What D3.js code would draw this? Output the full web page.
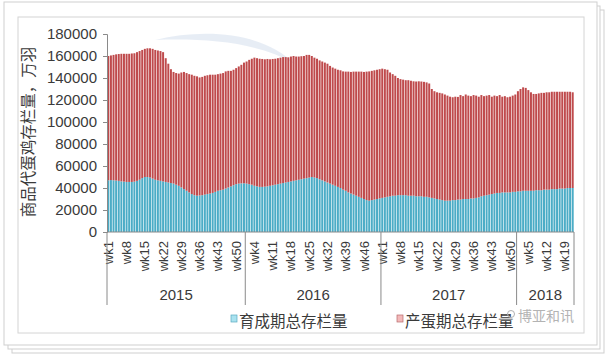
<!DOCTYPE html>
<html><head><meta charset="utf-8">
<script src="https://cdn.jsdelivr.net/npm/d3@7/dist/d3.min.js"></script>
<style>body{margin:0;background:#fff;}svg{display:block;}</style>
</head><body>
<svg id="c" width="615" height="359"></svg>
<script>
// ---- data ----
const years = ["2015", "2016", "2017", "2018"];
const weeksPerYear = [53, 52, 52, 22];
// 育成期总存栏量 (万羽)
const rearing2015 = [47000,47200,47000,46800,46500,46000,45800,45500,45500,45500,45800,46500,47500,49000,50000,50000,49500,48500,47500,47000,46500,46000,45500,45000,44500,44000,43000,42000,40500,39000,37500,36000,34500,33500,33000,33200,33500,34000,34500,35000,35500,36500,37500,38000,38500,39500,40500,41500,42500,43500,44000,44200,44300];
const rearing2016 = [44000,43500,43000,42000,41500,41000,41000,41200,41500,42000,42500,43000,43500,44000,44500,45000,45500,46000,46500,47000,47500,48000,48500,49000,49500,50000,49500,49000,48000,47000,46000,45000,44000,43000,42000,41000,40000,38500,37500,36000,35000,34000,33000,32000,31000,30000,29000,28500,29000,29500,30000,30500];
const rearing2017 = [31000,31500,32000,32500,33000,33000,33500,33500,33500,33500,33000,33000,33000,32500,32500,32500,32000,32000,31500,31000,30500,30000,29500,29000,28500,28500,28500,29000,29000,29500,29500,30000,30000,30000,30500,30500,31000,31500,32500,33000,33500,34000,34500,35000,35500,35500,36000,36000,36000,36000,36500,36500];
const rearing2018 = [37000,37000,37500,37500,37500,37500,37500,38000,38000,38000,38500,38500,38500,39000,39000,39000,39500,39500,39500,40000,40000,40000];
// 产蛋期总存栏量 (万羽)
const laying2015 = [113000,113300,114000,114700,115300,116000,116200,116500,116500,116800,116700,117000,117000,116500,116500,117000,117500,118000,118000,118000,118000,117500,112500,108000,103500,101500,101500,102000,104500,106500,107000,107500,108500,108500,108500,107300,107500,108000,108000,108000,107500,106500,106000,106000,106000,106500,106000,105000,105000,105500,106500,107800,109700];
const laying2016 = [111000,113000,114500,116500,116500,116500,116300,115800,115800,115000,114800,114500,114500,114500,114500,114000,113300,113500,113500,112500,112000,111800,111500,112000,111500,110000,109000,108500,108000,108000,108000,108000,107000,106500,106500,106500,107000,107500,108300,109800,110500,111800,112800,113800,114800,115500,116800,117500,117500,117500,117500,117500];
const laying2017 = [117500,116500,115500,112500,110500,109000,106500,105500,105000,104500,105000,104500,104000,104300,104500,104300,104500,104000,103500,99000,97500,97000,97000,97000,96500,95500,94500,93500,94000,93300,95000,93500,95000,94000,93000,94000,93000,91500,92000,90500,90500,90500,88500,89000,88000,89000,87000,87500,86500,87000,87500,88500];
const laying2018 = [91000,93000,94000,93500,91500,89500,88000,87500,88000,88500,88000,88500,88500,88500,88500,88500,88000,88000,88000,87500,87500,87000];
const yTicks = [0,20000,40000,60000,80000,100000,120000,140000,160000,180000];
const seriesNames = ["育成期总存栏量", "产蛋期总存栏量"];
const yTitle = "商品代蛋鸡存栏量，万羽";
const watermark = "博亚和讯";

// ---- build table ----
const rearing = [rearing2015, rearing2016, rearing2017, rearing2018];
const laying = [laying2015, laying2016, laying2017, laying2018];
const rows = [];
years.forEach((yr, yi) => {
  for (let w = 0; w < weeksPerYear[yi]; w++) {
    rows.push({year: yr, week: w + 1, label: "wk" + (w + 1), rearing: rearing[yi][w], laying: laying[yi][w]});
  }
});
rows.forEach((d, i) => d.i = i);

const svg = d3.select("#c");
const font = "'Liberation Sans', Arial, sans-serif";
const cjk = "'Noto Sans CJK SC', sans-serif";
const txt = "#3a3a3a";

// paper frame
svg.append("rect").attr("x", 12).attr("y", 10).attr("width", 592).attr("height", 343).attr("fill", "#fff").attr("stroke", "#cfcfcf");
svg.append("rect").attr("x", 8).attr("y", 6).attr("width", 592).attr("height", 343).attr("fill", "#fff").attr("stroke", "#cfcfcf");
svg.append("rect").attr("x", 4).attr("y", 2).attr("width", 593).attr("height", 343).attr("fill", "#fff").attr("stroke", "#cfcfcf");
svg.append("rect").attr("x", 18).attr("y", 17).attr("width", 566).attr("height", 316).attr("fill", "#fff").attr("stroke", "#d4d4d4");

const x0 = 107, x1 = 574, yTop = 34, yBot = 232;
const x = d3.scaleBand().domain(rows.map(d => d.i)).range([x0, x1]).paddingInner(0.24).paddingOuter(0.12);
const y = d3.scaleLinear().domain([0, 180000]).range([yBot, yTop]);

// faint swoosh watermark
svg.append("path")
  .attr("d", "M155,40 C205,28 262,32 295,64 C258,42 205,38 155,40 Z")
  .attr("fill", "#c4d2e6").attr("opacity", 0.4);

// bars
const stack = d3.stack().keys(["rearing", "laying"])(rows);
const colors = ["#4BACC6", "#BF4A4C"];
stack.forEach((layer, li) => {
  svg.append("g").selectAll("rect").data(layer).join("rect")
    .attr("x", d => x(d.data.i))
    .attr("width", x.bandwidth())
    .attr("y", d => y(d[1]))
    .attr("height", d => y(d[0]) - y(d[1]))
    .attr("fill", colors[li]);
});

// y axis
const yAxis = d3.axisLeft(y).tickValues(yTicks).tickSize(4).tickPadding(6).tickFormat(d3.format("d"));
const ya = svg.append("g").attr("transform", `translate(${x0},0)`).call(yAxis);
ya.select(".domain").attr("stroke", "#8a8a8a");
ya.selectAll(".tick line").attr("stroke", "#8a8a8a");
ya.selectAll(".tick text").attr("font-family", font).attr("font-size", 15).attr("fill", txt);

// x axis
const xa = svg.append("g").attr("transform", `translate(0,${yBot})`)
  .call(d3.axisBottom(x).tickValues(rows.filter(d => d.i % 7 === 0).map(d => d.i)).tickSize(0).tickFormat(""));
xa.select(".domain").remove();
svg.append("line").attr("x1", x0).attr("x2", x1).attr("y1", yBot).attr("y2", yBot).attr("stroke", "#8a8a8a");
svg.append("g").selectAll("text").data(rows.filter(d => d.i % 7 === 0)).join("text")
  .attr("transform", d => `translate(${x(d.i) + x.bandwidth() / 2},241) rotate(-90)`)
  .attr("dy", "0.35em").attr("text-anchor", "end")
  .attr("font-family", font).attr("font-size", 13).attr("fill", txt)
  .text(d => d.label);

// year group separators and labels
let start = 0;
const bounds = [x0];
years.forEach((yr, yi) => {
  const first = start, last = start + weeksPerYear[yi] - 1;
  const left = yi === 0 ? x0 : x(first) - x.step() * x.paddingInner() / 2;
  const right = yi === years.length - 1 ? x1 : x(last) + x.bandwidth() + x.step() * x.paddingInner() / 2;
  bounds.push(right);
  svg.append("text").attr("x", (left + right) / 2).attr("y", 300).attr("text-anchor", "middle")
    .attr("font-family", font).attr("font-size", 15).attr("fill", txt).text(yr);
  start += weeksPerYear[yi];
});
svg.append("g").selectAll("line").data(bounds).join("line")
  .attr("x1", d => d).attr("x2", d => d).attr("y1", yBot).attr("y2", 305)
  .attr("stroke", "#8a8a8a");

// y title
svg.append("text").attr("transform", "translate(34,132) rotate(-90)")
  .attr("text-anchor", "middle").attr("font-family", cjk).attr("font-size", 15.5).attr("fill", txt)
  .text(yTitle);

// legend
const leg = [{x: 231, fill: "#a9e2ef", stroke: "#5aa9c0"}, {x: 397, fill: "#f3b9ba", stroke: "#b76a6c"}];
leg.forEach((l, i) => {
  svg.append("rect").attr("x", l.x).attr("y", 315).attr("width", 6).attr("height", 7)
    .attr("fill", l.fill).attr("stroke", l.stroke).attr("stroke-width", 0.7);
  svg.append("text").attr("x", l.x + 8).attr("y", 320).attr("dominant-baseline", "central")
    .attr("font-family", cjk).attr("font-size", 15.5).attr("fill", txt).text(seriesNames[i]);
});

// watermark
svg.append("text").attr("x", 518).attr("y", 315).attr("dominant-baseline", "central")
  .attr("font-family", cjk).attr("font-size", 14).attr("fill", "#9a9a9a").attr("opacity", 0.75)
  .attr("stroke", "#fff").attr("stroke-width", 0.6).attr("paint-order", "stroke")
  .text(watermark);
svg.append("circle").attr("cx", 511).attr("cy", 314).attr("r", 3.5).attr("fill", "none").attr("stroke", "#b0b0b0").attr("stroke-width", 1);
</script>
</body></html>
